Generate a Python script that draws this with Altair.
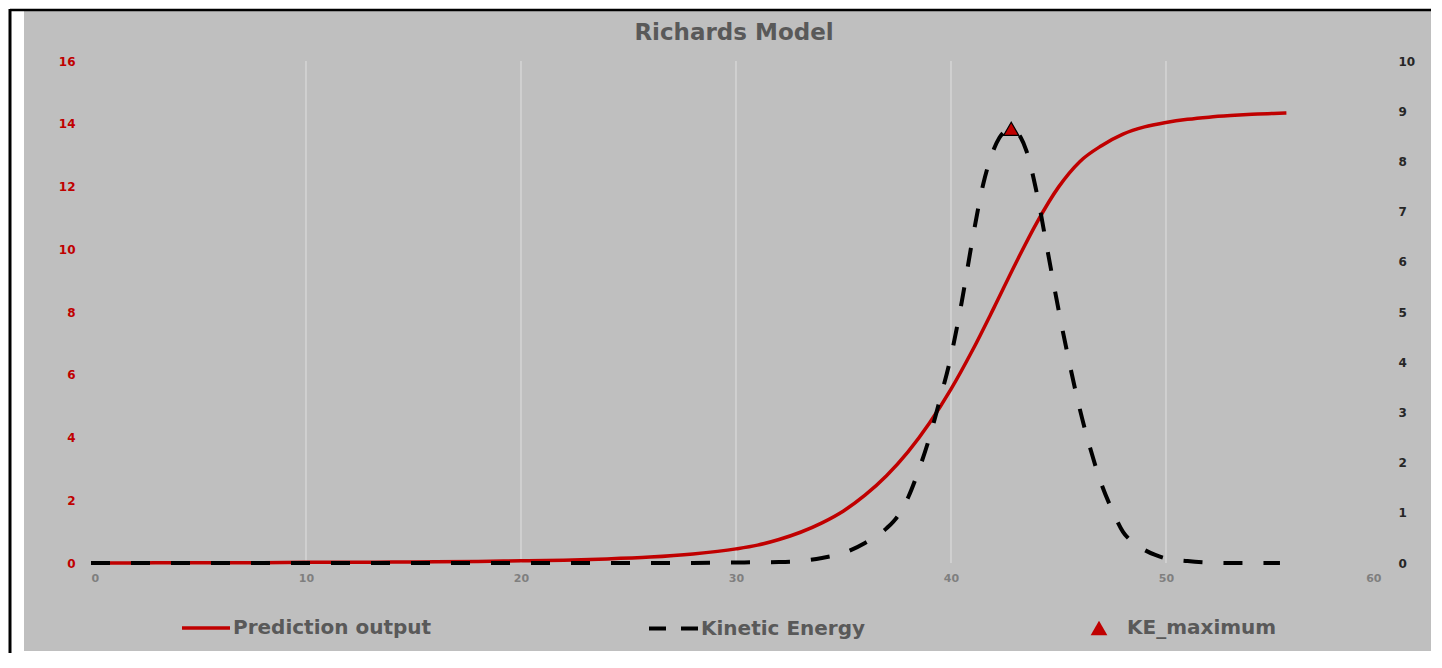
import altair as alt
import pandas as pd

# ---- data ----
pred_x = [0, 2, 4, 6, 8, 10, 12, 14, 16, 18, 20, 22, 24, 26, 28, 30,
          31, 32, 33, 34, 35, 36, 37, 38, 39, 40, 41, 42, 43, 44, 45, 46, 47, 48, 49, 50,
          51, 52, 53, 54, 55, 55.6]
pred_y = [0.00, 0.00, 0.01, 0.01, 0.01, 0.02, 0.02, 0.03, 0.04, 0.05, 0.07, 0.09, 0.13, 0.19, 0.29, 0.45,
          0.57, 0.75, 0.98, 1.28, 1.66, 2.16, 2.78, 3.54, 4.46, 5.54, 6.78, 8.14, 9.54, 10.86, 11.98, 12.8,
          13.3, 13.67, 13.9, 14.04, 14.14, 14.21, 14.26, 14.3, 14.33, 14.34]

ke_x = [0, 5, 10, 15, 20, 25, 28, 30, 32, 33, 34, 35, 36, 37, 37.5, 38, 38.5, 39, 39.5,
        40, 40.5, 41, 41.5, 42, 42.25, 42.5, 42.8, 43, 43.25, 43.5, 44, 44.5, 45, 45.5, 46, 46.5, 47, 47.5,
        48, 48.5, 49, 49.5, 50, 51, 52, 53, 54, 55.3]
ke_y = [0, 0, 0, 0, 0, 0, 0, 0.01, 0.02, 0.04, 0.1, 0.2, 0.4, 0.69, 0.92, 1.3, 1.85, 2.5, 3.28,
        4.12, 5.2, 6.45, 7.55, 8.25, 8.47, 8.6, 8.65, 8.6, 8.47, 8.22, 7.35, 6.2, 5.05, 4.0, 3.05, 2.25, 1.57, 1.05,
        0.62, 0.4, 0.26, 0.16, 0.09, 0.04, 0.01, 0, 0, 0]

ke_max_x = [42.8]
ke_max_y = [8.65]

x_ticks = [0, 10, 20, 30, 40, 50, 60]
grid_x = [10, 20, 30, 40, 50]
left_ticks = [0, 2, 4, 6, 8, 10, 12, 14, 16]
right_ticks = [0, 1, 2, 3, 4, 5, 6, 7, 8, 9, 10]

series_names = ["Prediction output", "Kinetic Energy", "KE_maximum"]
title_text = "Richards Model"

# ---- styling ----
W, H = 1290, 502
RED = "#c00000"
FONT = "DejaVu Sans"
GRAY_TXT = "#595959"
DASH = [19, 21]
LEG_DASH = [17, 15]

pred_df = pd.DataFrame({"x": pred_x, "y": pred_y, "series": series_names[0]})
ke_df = pd.DataFrame({"x": ke_x, "y": ke_y, "series": series_names[1]})
max_df = pd.DataFrame({"x": ke_max_x, "y": ke_max_y, "series": series_names[2]})
grid_df = pd.DataFrame({"g": grid_x})
one = pd.DataFrame({"a": [0]})

xscale = alt.Scale(domain=[0, 60], nice=False, zero=False)
xaxis = alt.Axis(values=x_ticks, grid=False, ticks=False, tickSize=0, domain=False,
                 labelColor="#7f7f7f", labelFont=FONT, labelFontWeight="bold",
                 labelFontSize=11, labelPadding=9, title=None, zindex=1)

def X(field):
    return alt.X(field, scale=xscale, axis=xaxis)

bg = alt.Chart(one).mark_rect(color="#bfbfbf").encode(
    x=alt.value(-67), x2=alt.value(1340), y=alt.value(-51), y2=alt.value(590))
top_line = alt.Chart(one).mark_rule(color="black", strokeWidth=2.5).encode(
    x=alt.value(-81), x2=alt.value(1340), y=alt.value(-51))
left_line = alt.Chart(one).mark_rule(color="black", strokeWidth=3).encode(
    x=alt.value(-81), y=alt.value(-52), y2=alt.value(600))
title = alt.Chart(one).mark_text(text=title_text, font=FONT, fontSize=23, fontWeight="bold",
                                 color=GRAY_TXT, align="center", baseline="alphabetic").encode(
    x=alt.value(W / 2 - 2), y=alt.value(-21))

grid = alt.Chart(grid_df).mark_rule(color="#d9d9d9", strokeWidth=1.3).encode(x=X("g:Q"))

leg_common = dict(orient="none", title=None, padding=0, labelFont=FONT, labelFontSize=20,
                  labelFontWeight="bold", labelColor=GRAY_TXT, labelLimit=0, zindex=1)

red = alt.Chart(pred_df).mark_line(strokeWidth=3.5, interpolate="monotone").encode(
    x=X("x:Q"),
    y=alt.Y("y:Q", scale=alt.Scale(domain=[0, 16], nice=False),
            axis=alt.Axis(orient="left", values=left_ticks, grid=False, ticks=False, tickSize=0,
                          domain=False, labelColor=RED, labelFont=FONT, labelFontWeight="bold",
                          labelFontSize=12, labelPadding=16, title=None, zindex=1)),
    color=alt.Color("series:N", scale=alt.Scale(domain=[series_names[0]], range=[RED]),
                    legend=alt.Legend(legendX=89, legendY=541, symbolType="stroke", symbolSize=2304,
                                      symbolStrokeWidth=3.5, labelOffset=1, **leg_common)),
)

ke_y_enc = alt.Y("y:Q", scale=alt.Scale(domain=[0, 10], nice=False),
                 axis=alt.Axis(orient="right", values=right_ticks, grid=False, ticks=False, tickSize=0,
                               domain=False, labelColor="#262626", labelFont=FONT, labelFontWeight="bold",
                               labelFontSize=12, labelPadding=17, title=None, zindex=1))

# same curve, transparent, carrying the legend entry
ke_leg = alt.Chart(ke_df).mark_line(color="black", strokeOpacity=0, strokeWidth=3.8,
                                    interpolate="monotone").encode(
    x=X("x:Q"), y=ke_y_enc,
    strokeDash=alt.StrokeDash("series:N", scale=alt.Scale(domain=[series_names[1]], range=[LEG_DASH]),
                              legend=alt.Legend(legendX=556, legendY=541, symbolType="stroke",
                                                symbolSize=2401, symbolStrokeWidth=3.8, symbolOpacity=1,
                                                symbolStrokeColor="black", labelOffset=1, **leg_common)),
)

# visible dashed curve
ke = alt.Chart(ke_df).mark_line(color="black", strokeWidth=4, strokeDash=DASH,
                                interpolate="monotone").encode(x=X("x:Q"), y=ke_y_enc)

mx = alt.Chart(max_df).mark_point(filled=True, fill=RED, stroke="black", strokeWidth=1.2,
                                  size=230, opacity=1).encode(
    x=X("x:Q"),
    y=alt.Y("y:Q", scale=alt.Scale(domain=[0, 10], nice=False)),
    shape=alt.Shape("series:N", scale=alt.Scale(domain=[series_names[2]], range=["triangle-up"]),
                    legend=alt.Legend(legendX=998, legendY=557, symbolSize=280,
                                      symbolFillColor=RED, symbolStrokeColor="black",
                                      symbolStrokeWidth=1.3, labelOffset=18, **leg_common)),
)

left = alt.layer(bg, top_line, left_line, title, grid, red)
right = alt.layer(ke_leg, ke, mx)

chart = alt.layer(left, right).resolve_scale(y="independent").properties(
    width=W, height=H,
    padding={"left": 83, "top": 53, "right": 50, "bottom": 90},
    autosize=alt.AutoSizeParams(type="none"),
).configure_view(stroke=None).configure(background="white")

chart.save("out.html", embed_options={"renderer": "svg", "actions": False})
